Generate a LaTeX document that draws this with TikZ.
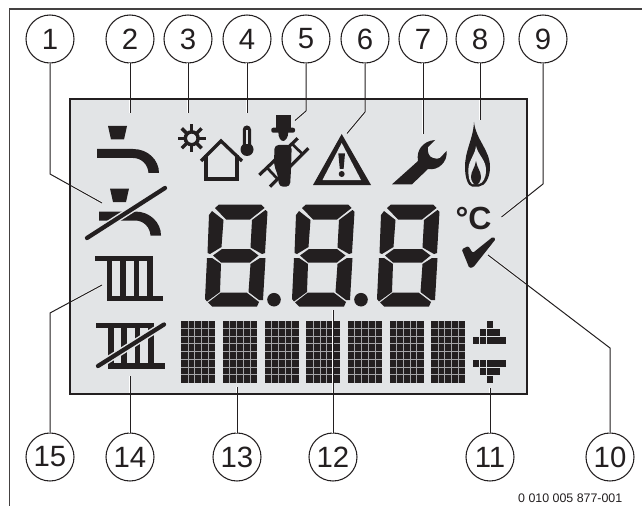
\documentclass[tikz,border=0pt]{standalone}
\usepackage{fontspec}
\setmainfont{Liberation Sans}
\usepackage{tikz}
\usetikzlibrary{calc}
\definecolor{lcdpanel}{RGB}{226,228,230}
\definecolor{lcdink}{RGB}{35,31,32}
\definecolor{lcdgrid}{RGB}{165,165,168}
\tikzset{
  numcirc/.style={draw=lcdink, circle, line width=0.8pt, minimum size=36pt, inner sep=0pt, outer sep=0pt,
    text=lcdink, font=\fontsize{22}{24}\selectfont},
  leader/.style={draw=lcdink, line width=0.75pt, preaction={draw=white, line width=1.5pt}},
  slash/.style={draw=lcdink, line width=3.2pt, line cap=round, preaction={draw=lcdpanel, line width=5.4pt}}
}
\newcommand{\lcddigit}[1]{%
  \begin{scope}[shift={(#1,0)}]
    \fill[lcdink] (215,208) -- (219,204.5) -- (261,204.5) -- (264.5,208) -- (250,219.5) -- (226,219.5) -- cycle;
    \fill[lcdink] (209,215) -- (212,211) -- (223.5,220) -- (221.5,247) -- (210,254) -- (207.5,253) -- cycle;
    \fill[lcdink] (267.5,212) -- (265.5,210) -- (252,220) -- (250.5,247.5) -- (262,254) -- (265,253) -- cycle;
    \fill[lcdink] (213,255.5) -- (222,249) -- (250,249) -- (258.5,255.5) -- (250,262.5) -- (221,262.5) -- cycle;
    \fill[lcdink] (207,258) -- (212,258) -- (221,264) -- (220,292) -- (207,301.5) -- (205,299) -- cycle;
    \fill[lcdink] (265.5,258) -- (260,258) -- (250.5,264) -- (248.5,292) -- (259,300) -- (263,300) -- cycle;
    \fill[lcdink] (208,302.5) -- (221,292.5) -- (246.5,292.5) -- (259,302) -- (257,306.5) -- (212,306.5) -- cycle;
  \end{scope}}
\newcommand{\lcdtap}[2]{%
  \begin{scope}[shift={(#1,#2)}]
    \fill[lcdink] (108,126) -- (127,126) -- (124,139.5) -- (111,139.5) -- cycle;
    \fill[lcdink] (97,149) -- (133,149) .. controls (148,149) and (159,160) .. (159,173) -- (148.5,173)
      .. controls (148,165) and (142,158) .. (133,158) -- (97,158) -- cycle;
  \end{scope}}
\newcommand{\lcdradiator}[2]{%
  \begin{scope}[shift={(#1,#2)}]
    \fill[lcdink] (95,255.7) rectangle (151.7,260.7);
    \fill[lcdink] (106.7,295.7) rectangle (163.3,301);
    \foreach \px in {106.7,120.1,133.6,147} {
      \fill[lcdink] (\px,255.7) rectangle +(5.5,45.3);
    }
  \end{scope}}

\begin{document}
\begin{tikzpicture}[x=0.75pt, y=-0.75pt]
    \useasboundingbox (0,0) rectangle (642,506);
    % page frame and display
    \draw[draw=lcdink!85, line width=1pt] (9.5,506) -- (9.5,9) -- (642,9);
    \fill[lcdpanel] (70,99) rectangle (527,394);

    % taps
    \lcdtap{0}{0}
    \lcdtap{2}{62.5}
    \draw[slash] (87,238) -- (165,188);

    % sun, house, thermometer
    \draw[draw=lcdink, line width=2.6pt] (191.7,138.3) circle (6.4);
    \foreach \ang in {0,45,...,315} {
      \draw[draw=lcdink, line width=2.6pt] (191.7,138.3) ++(\ang:7) -- ++(\ang:7);
    }
    \draw[draw=lcdink, line width=2.5pt] (201,161) -- (221,141) -- (242,161);
    \draw[draw=lcdink, line width=2.5pt] (206,155) -- (206,179) -- (237,179) -- (237,155);
    \fill[lcdink, rounded corners=3pt] (242.8,125.5) rectangle (251,150);
    \fill[lcdink] (247,149.5) circle (6.5);
    \fill[lcdpanel] (246,130) rectangle (248.2,144);

    % sweep
    \draw[draw=lcdink, line width=2.4pt] (259.3,175) -- (297.7,138.3);
    \draw[draw=lcdink, line width=2.4pt] (270,186.7) -- (308.3,148.3);
    \foreach \rr in {0.2,0.38,0.85} {
      \draw[draw=lcdink, line width=2pt] ($(259.3,175)!\rr!(297.7,138.3)$) -- ($(270,186.7)!\rr!(308.3,148.3)$);
    }
    \fill[lcdink] (276,115) rectangle (290.7,128);
    \fill[lcdink, rounded corners=1.5pt] (271.3,127.7) rectangle (295,132.7);
    \fill[lcdink] (278.3,132) -- (288.3,132) .. controls (288.3,138) and (285,141) .. (283.3,141)
      .. controls (281,141) and (278.3,138) .. (278.3,132) -- cycle;
    \fill[lcdink, rounded corners=3pt] (274.5,145) -- (291.7,145) -- (291,170) -- (290,186.7) -- (279,186.7)
      -- (278,176) -- (274,165) -- cycle;

    % warning triangle
    \fill[lcdink] (341.7,134) -- (371,185) -- (313,185) -- cycle;
    \fill[lcdpanel] (341.7,143) -- (361,180) -- (322.5,180) -- cycle;
    \fill[lcdink] (338.3,153.3) -- (345,153.3) -- (343.6,169) -- (339.8,169) -- cycle;
    \fill[lcdink] (341.7,174) circle (3);

    % wrench
    \fill[lcdink] (392,184.3) -- (418,161) .. controls (416,150) and (423,141) .. (435,140) -- (428,147)
      .. controls (427,152) and (429,157) .. (433,158) .. controls (436,159) and (438,159) .. (440,158)
      -- (446.5,151) .. controls (448,162) and (438,171) .. (428,169) -- (412,184.3) -- cycle;

    % flame
    \fill[lcdink] (474,122) .. controls (476,140) and (490,150) .. (490,167)
      .. controls (490,178) and (485,186) .. (479,186.5) -- (472,186.5)
      .. controls (468,186) and (465,178) .. (465,167) .. controls (465,150) and (473,140) .. (474,122) -- cycle;
    \fill[lcdpanel] (476,146) .. controls (478,155) and (486,160) .. (486,170)
      .. controls (486,178) and (483,183) .. (479,184) -- (472,184)
      .. controls (469,181) and (468,176) .. (468.5,168) .. controls (469,160) and (475,155) .. (476,146) -- cycle;
    \fill[lcdink] (476,161) .. controls (477,168) and (481,171) .. (481,177)
      .. controls (481,181) and (478,185) .. (476,185) .. controls (474,185) and (471,181) .. (471,177)
      .. controls (471,171) and (475,168) .. (476,161) -- cycle;

    % check mark
    \fill[lcdink, rounded corners=1pt] (461.7,249.3) -- (468.3,246) -- (472.7,253) -- (493,236.7) -- (495.7,239)
      -- (473.3,267.3) -- (469.3,268) -- cycle;

    % seven segment digits
    \lcddigit{0}
    \lcddigit{87}
    \lcddigit{172}
    \fill[lcdink] (274,299.7) circle (6.8);
    \fill[lcdink] (361,299.7) circle (6.8);

    % radiators
    \lcdradiator{0}{0}
    \lcdradiator{1.3}{67.6}
    \draw[slash] (98,366) -- (164,324.5);

    % dot matrix
    \foreach \bx in {181.3,223,264.7,306.4,348,389.7,431.3} {
      \fill[lcdink] (\bx,320.7) rectangle +(34,62);
      \foreach \i in {1,...,4} {
        \draw[draw=lcdgrid, line width=0.7pt] ({\bx+\i*6.8},320.7) -- +(0,62);
      }
      \foreach \i in {1,...,7} {
        \draw[draw=lcdgrid, line width=0.7pt] (\bx,{320.7+\i*7.75}) -- +(34,0);
      }
    }

    % up and down markers
    \foreach \cx/\cy in {486.7/321, 480/329, 486.7/329, 493.4/329, 473.3/337, 480/337, 486.7/337, 493.4/337, 500/337,
        473.3/360, 480/360, 486.7/360, 493.4/360, 500/360, 480/368, 486.7/368, 493.4/368, 486.7/376} {
      \fill[lcdink] (\cx,\cy) rectangle +(6.1,7.1);
    }

    \node[text=lcdink, font=\bfseries\fontsize{24}{26}\selectfont] (unit) at (473.5,218.5) {°C};

    % callouts
    \node[numcirc] (n1) at (50,39) {1};
    \node[numcirc] (n2) at (130,39) {2};
    \node[numcirc] (n3) at (188,39) {3};
    \node[numcirc] (n4) at (247,39) {4};
    \node[numcirc] (n5) at (306,39) {5};
    \node[numcirc] (n6) at (365,39) {6};
    \node[numcirc] (n7) at (423,39) {7};
    \node[numcirc] (n8) at (480,39) {8};
    \node[numcirc] (n9) at (543,39) {9};
    \node[numcirc] (n10) at (610,457) {10};
    \node[numcirc] (n11) at (490,457) {11};
    \node[numcirc] (n12) at (333,457) {12};
    \node[numcirc] (n13) at (237,457) {13};
    \node[numcirc] (n14) at (130,457) {14};
    \node[numcirc] (n15) at (50,457) {15};

    \coordinate (k1) at (50,174);   \coordinate (e1) at (102,203);
    \coordinate (e2) at (130,113);
    \coordinate (e3) at (188,113);
    \coordinate (e4) at (247,113);
    \coordinate (k5) at (306,111);  \coordinate (e5) at (295,120.5);
    \coordinate (k6) at (365,112);  \coordinate (e6) at (347,133.5);
    \coordinate (e7) at (423,134);
    \coordinate (e8) at (480,120);
    \coordinate (k9) at (543,184);  \coordinate (e9) at (501.5,217);
    \coordinate (k10) at (610,348); \coordinate (e10) at (488,255);
    \coordinate (e11) at (490,388);
    \coordinate (e12) at (333,310);
    \coordinate (e13) at (237,387);
    \coordinate (e14) at (130,376);
    \coordinate (k15) at (50,313);  \coordinate (e15) at (102,285);

    \draw[leader] (n1) -- (k1) -- (e1);
    \draw[leader] (n2) -- (e2);
    \draw[leader] (n3) -- (e3);
    \draw[leader] (n4) -- (e4);
    \draw[leader] (n5) -- (k5) -- (e5);
    \draw[leader] (n6) -- (k6) -- (e6);
    \draw[leader] (n7) -- (e7);
    \draw[leader] (n8) -- (e8);
    \draw[leader] (n9) -- (k9) -- (e9);
    \draw[leader] (n10) -- (k10) -- (e10);
    \draw[leader] (n11) -- (e11);
    \draw[leader] (n12) -- (e12);
    \draw[leader] (n13) -- (e13);
    \draw[leader] (n14) -- (e14);
    \draw[leader] (n15) -- (k15) -- (e15);

    \draw[draw=lcdink, line width=1.6pt] (70,99) rectangle (527,394);

    \node[anchor=east, text=lcdink, font=\fontsize{9.3}{11}\selectfont] (docno) at (627,498) {0 010 005 877-001};
  \end{tikzpicture}
\end{document}
